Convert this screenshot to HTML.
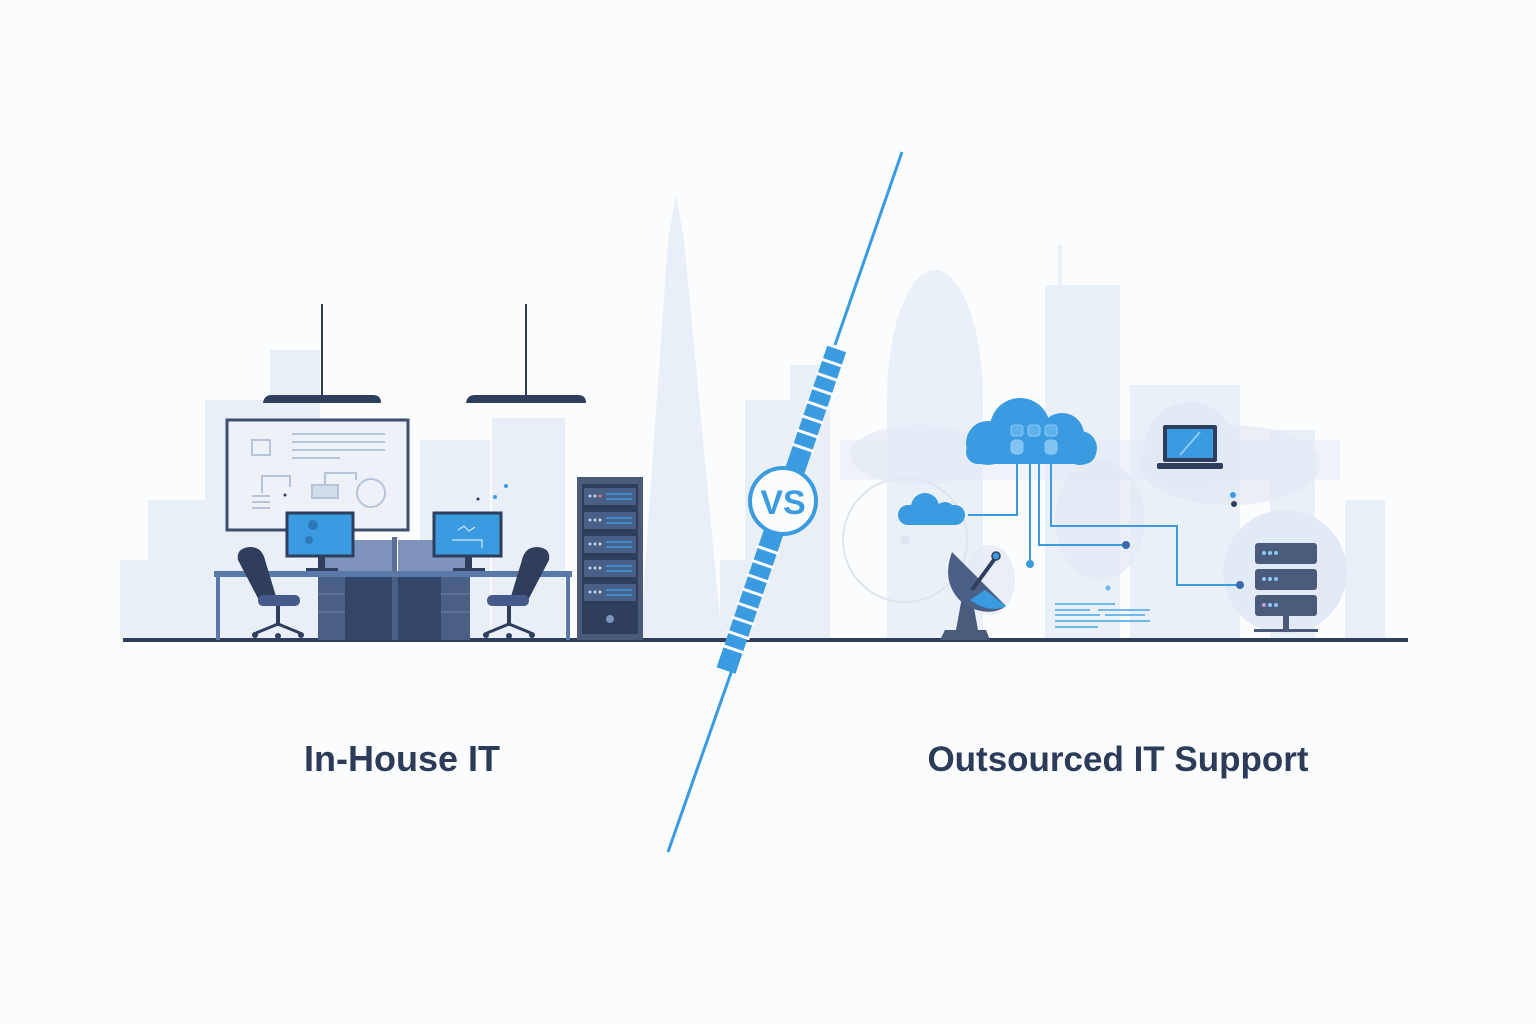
<!DOCTYPE html>
<html><head><meta charset="utf-8"><style>
html,body{margin:0;padding:0;background:#fbfcfe}
svg{display:block}
text{font-family:"Liberation Sans",sans-serif}
</style></head><body>
<svg width="1536" height="1024" viewBox="0 0 1536 1024" xmlns="http://www.w3.org/2000/svg">
<rect width="1536" height="1024" fill="#fbfcfe"/>
<g fill="#e9eff7">
<rect x="148" y="500" width="90" height="140"/>
<rect x="205" y="400" width="95" height="240"/>
<rect x="270" y="350" width="50" height="290"/>
<rect x="120" y="560" width="40" height="80"/>
<rect x="420" y="440" width="70" height="200"/>
<rect x="492" y="418" width="73" height="222"/>
<polygon points="640,640 668,240 676,195 684,240 722,640"/>
<rect x="720" y="560" width="30" height="80"/>
<rect x="745" y="400" width="55" height="240"/>
<rect x="790" y="365" width="40" height="275"/>
</g>
<g fill="#eaf0f8">
<ellipse cx="935" cy="400" rx="48" ry="130"/>
<rect x="887" y="400" width="96" height="240"/>
<rect x="1045" y="285" width="75" height="355"/>
<rect x="1058" y="245" width="4" height="45"/>
<rect x="1130" y="385" width="110" height="255"/>
<rect x="1270" y="430" width="45" height="210"/>
<rect x="1345" y="500" width="40" height="140"/>
<rect x="840" y="440" width="500" height="40" opacity="0.5" fill="#e3eaf4"/>
</g>
<circle cx="905" cy="540" r="62" fill="none" stroke="#dde5ef" stroke-width="2"/>
<circle cx="905" cy="540" r="5" fill="#dde5ef"/>
<g fill="#e3eaf4" opacity="0.7">
<ellipse cx="920" cy="455" rx="70" ry="30"/>
<ellipse cx="1100" cy="520" rx="45" ry="60"/>
<ellipse cx="1230" cy="465" rx="90" ry="40"/>
<ellipse cx="990" cy="580" rx="25" ry="35"/>
</g>
<line x1="123" y1="640" x2="1408" y2="640" stroke="#2e3e5c" stroke-width="4"/>
<g fill="#2e3e5c">
<rect x="321" y="304" width="2" height="92"/>
<path d="M263,403 Q264,395 272,395 L373,395 Q381,395 381,403 Z"/>
<rect x="525" y="304" width="2" height="92"/>
<path d="M466,403 Q467,395 475,395 L578,395 Q586,395 586,403 Z"/>
</g>
<rect x="227" y="420" width="181" height="110" fill="#eef2f8" stroke="#3e4f6e" stroke-width="3"/>
<g stroke="#b8c5d8" stroke-width="2" fill="none">
<line x1="292" y1="434" x2="385" y2="434"/><line x1="292" y1="442" x2="385" y2="442"/>
<line x1="292" y1="450" x2="385" y2="450"/><line x1="292" y1="458" x2="340" y2="458"/>
<path d="M252,440 h18 v15 h-18z"/>
<polyline points="262,493 262,476 290,476 290,487"/>
<rect x="312" y="485" width="26" height="13" fill="#d3dcea"/>
<polyline points="325,485 325,473 356,473 356,480"/>
<circle cx="371" cy="493" r="14"/>
<line x1="252" y1="496" x2="270" y2="496"/><line x1="252" y1="502" x2="270" y2="502"/><line x1="252" y1="508" x2="270" y2="508"/>
</g>
<rect x="318" y="540" width="74" height="31" fill="#7d93bc"/>
<rect x="398" y="540" width="72" height="31" fill="#7d93bc"/>
<rect x="392" y="537" width="5" height="103" fill="#5b6f95"/>
<rect x="287" y="513" width="66" height="43" fill="#3b9be0" stroke="#2e3e5c" stroke-width="3"/>
<rect x="318" y="556" width="7" height="14" fill="#2e3e5c"/><rect x="306" y="568" width="32" height="4" fill="#2e3e5c"/>
<rect x="434" y="513" width="67" height="43" fill="#3b9be0" stroke="#2e3e5c" stroke-width="3"/>
<rect x="465" y="556" width="7" height="14" fill="#2e3e5c"/><rect x="453" y="568" width="32" height="4" fill="#2e3e5c"/>
<g stroke="#cfe8fb" stroke-width="1.2" fill="none"><path d="M452,540 h30 v8 M458,530 l6,-4 l5,5 l6,-4"/></g>
<g fill="#2a6aa8" opacity="0.7"><circle cx="313" cy="525" r="5"/><circle cx="309" cy="540" r="4"/></g>
<rect x="214" y="571" width="358" height="6" fill="#5b79a8"/>
<rect x="216" y="577" width="4" height="63" fill="#5b79a8"/>
<rect x="566" y="577" width="4" height="63" fill="#5b79a8"/>
<rect x="318" y="577" width="152" height="63" fill="#4a5f85"/>
<rect x="345" y="577" width="47" height="63" fill="#34456a"/>
<rect x="398" y="577" width="43" height="63" fill="#34456a"/>
<g stroke="#6b80a8" stroke-width="1"><line x1="318" y1="594" x2="345" y2="594"/><line x1="318" y1="612" x2="345" y2="612"/><line x1="441" y1="594" x2="470" y2="594"/><line x1="441" y1="612" x2="470" y2="612"/></g>
<g fill="#2e3e5c">
<path d="M238,560 Q236,548 250,547 Q262,547 265,560 L278,603 L262,606 Z"/>
<rect x="258" y="595" width="42" height="11" rx="5" fill="#45598a"/>
<rect x="276" y="606" width="4" height="20"/>
<path d="M256,633 L278,624 L300,633" stroke="#2e3e5c" stroke-width="3" fill="none"/>
<circle cx="255" cy="635" r="3"/><circle cx="278" cy="636" r="3"/><circle cx="301" cy="635" r="3"/>
<path d="M549,560 Q551,548 537,547 Q525,547 522,560 L509,603 L525,606 Z"/>
<rect x="487" y="595" width="42" height="11" rx="5" fill="#45598a"/>
<rect x="507" y="606" width="4" height="20"/>
<path d="M487,633 L509,624 L531,633" stroke="#2e3e5c" stroke-width="3" fill="none"/>
<circle cx="486" cy="635" r="3"/><circle cx="509" cy="636" r="3"/><circle cx="532" cy="635" r="3"/>
</g>
<circle cx="506" cy="486" r="2" fill="#3b9be0"/><circle cx="495" cy="497" r="2" fill="#3b9be0"/><circle cx="478" cy="499" r="1.5" fill="#2e3e5c"/><circle cx="285" cy="495" r="1.5" fill="#2e3e5c"/>
<rect x="577" y="477" width="66" height="163" fill="#4a5a7a"/>
<rect x="582" y="484" width="56" height="150" fill="#2e3e5c"/>
<g fill="#4a5f85">
<rect x="584" y="488" width="52" height="17"/>
<rect x="584" y="512" width="52" height="17"/>
<rect x="584" y="536" width="52" height="17"/>
<rect x="584" y="560" width="52" height="17"/>
<rect x="584" y="584" width="52" height="17"/>
</g>
<g stroke="#3b9be0" stroke-width="1.5"><line x1="606" y1="494" x2="632" y2="494"/><line x1="606" y1="499" x2="632" y2="499"/><line x1="606" y1="518" x2="632" y2="518"/><line x1="606" y1="523" x2="632" y2="523"/><line x1="606" y1="542" x2="632" y2="542"/><line x1="606" y1="547" x2="632" y2="547"/><line x1="606" y1="566" x2="632" y2="566"/><line x1="606" y1="571" x2="632" y2="571"/><line x1="606" y1="590" x2="632" y2="590"/><line x1="606" y1="595" x2="632" y2="595"/></g>
<g fill="#c8d4e6"><circle cx="590" cy="496" r="1.5"/><circle cx="595" cy="496" r="1.5"/><circle cx="590" cy="520" r="1.5"/><circle cx="595" cy="520" r="1.5"/><circle cx="600" cy="520" r="1.5"/><circle cx="590" cy="544" r="1.5"/><circle cx="595" cy="544" r="1.5"/><circle cx="600" cy="544" r="1.5"/><circle cx="590" cy="568" r="1.5"/><circle cx="595" cy="568" r="1.5"/><circle cx="600" cy="568" r="1.5"/><circle cx="590" cy="592" r="1.5"/><circle cx="595" cy="592" r="1.5"/><circle cx="600" cy="592" r="1.5"/></g>
<circle cx="600" cy="496" r="1.5" fill="#e07a7a"/>
<circle cx="610" cy="619" r="4" fill="#7d93bc"/>

<circle cx="1190" cy="447" r="45" fill="#e2ebf5"/>
<circle cx="1285" cy="572" r="62" fill="#e2ebf5"/>
<g stroke="#3b9be0" stroke-width="2" fill="none">
<polyline points="1017,458 1017,515 968,515"/>
<polyline points="1030,458 1030,562"/>
<polyline points="1039,458 1039,545 1126,545"/>
<polyline points="1051,458 1051,526 1177,526 1177,585 1240,585"/>
</g>
<circle cx="1030" cy="564" r="4" fill="#3b9be0"/>
<circle cx="1126" cy="545" r="4" fill="#3a6aa8"/>
<circle cx="1240" cy="585" r="4" fill="#3a6aa8"/>
<circle cx="1108" cy="588" r="2.5" fill="#6fb7ec"/>
<g fill="#3b9be0">
<circle cx="1020" cy="428" r="30"/>
<circle cx="1062" cy="435" r="22"/>
<circle cx="988" cy="443" r="22"/>
<circle cx="1080" cy="448" r="17"/>
<rect x="966" y="440" width="130" height="24" rx="12"/>
</g>
<g fill="#5fb2ec" stroke="#8cc8f2" stroke-width="1"><rect x="1011" y="425" width="12" height="11" rx="3"/><rect x="1028" y="425" width="12" height="11" rx="3"/><rect x="1045" y="425" width="12" height="11" rx="3"/><rect x="1011" y="440" width="12" height="14" rx="4" fill="#7fc4f3"/><rect x="1045" y="440" width="12" height="14" rx="4" fill="#7fc4f3"/></g>
<g fill="#3b9be0"><circle cx="925" cy="507" r="14"/><circle cx="945" cy="512" r="10"/><rect x="898" y="505" width="67" height="20" rx="10"/></g>
<rect x="1163" y="425" width="54" height="37" rx="2" fill="#2e3e5c"/>
<rect x="1167" y="429" width="46" height="29" fill="#3b9be0"/>
<line x1="1180" y1="455" x2="1200" y2="432" stroke="#8cc8f2" stroke-width="2"/>
<rect x="1157" y="463" width="66" height="6" rx="2" fill="#2e3e5c"/>
<circle cx="1233" cy="495" r="3" fill="#3b9be0"/><circle cx="1234" cy="504" r="3" fill="#2e3e5c"/>
<g fill="#4a5a7a">
<rect x="1255" y="543" width="62" height="21" rx="3"/>
<rect x="1255" y="569" width="62" height="21" rx="3"/>
<rect x="1255" y="595" width="62" height="21" rx="3"/>
<rect x="1283" y="616" width="6" height="14"/>
<rect x="1254" y="629" width="64" height="3"/>
</g>
<g fill="#8cc8f2"><circle cx="1264" cy="553" r="2"/><circle cx="1270" cy="553" r="2"/><circle cx="1276" cy="553" r="2"/><circle cx="1264" cy="579" r="2"/><circle cx="1270" cy="579" r="2"/><circle cx="1276" cy="579" r="2"/><circle cx="1264" cy="605" r="2" fill="#c79ad8"/><circle cx="1270" cy="605" r="2"/><circle cx="1276" cy="605" r="2"/></g>
<g stroke="#6fb7ec" stroke-width="2"><line x1="1055" y1="604" x2="1115" y2="604"/><line x1="1055" y1="610" x2="1090" y2="610"/><line x1="1098" y1="610" x2="1150" y2="610"/><line x1="1055" y1="615" x2="1100" y2="615"/><line x1="1105" y1="615" x2="1145" y2="615"/><line x1="1055" y1="621" x2="1150" y2="621"/><line x1="1055" y1="627" x2="1098" y2="627"/></g>
<path d="M940,640 L945,630 L956,630 L962,597 L972,597 L978,630 L986,630 L990,640 Z" fill="#4a5a7a"/>
<path d="M952,552 Q940,585 965,605 Q990,618 1006,606 Z" fill="#4a5f85"/>
<path d="M970,600 Q990,614 1006,606 L985,590 Z" fill="#3b9be0"/>
<line x1="972" y1="590" x2="996" y2="557" stroke="#2e3e5c" stroke-width="4"/>
<circle cx="996" cy="556" r="4" fill="#3b9be0" stroke="#2e3e5c" stroke-width="1.5"/>

<line x1="902" y1="152" x2="835" y2="345" stroke="#3b9be0" stroke-width="3"/>
<line x1="732" y1="670" x2="668" y2="852" stroke="#3b9be0" stroke-width="3"/>
<g transform="translate(783,505) rotate(19)">
<rect x="-10" y="-165" width="20" height="340" fill="#3b9be0"/>
<g fill="#fbfcfe">
<rect x="-12" y="-152" width="24" height="3"/><rect x="-12" y="-137" width="24" height="3"/><rect x="-12" y="-122" width="24" height="3"/><rect x="-12" y="-107" width="24" height="3"/><rect x="-12" y="-92" width="24" height="3"/><rect x="-12" y="-77" width="24" height="3"/><rect x="-12" y="-62" width="24" height="3"/>
<rect x="-12" y="46" width="24" height="3"/><rect x="-12" y="61" width="24" height="3"/><rect x="-12" y="76" width="24" height="3"/><rect x="-12" y="91" width="24" height="3"/><rect x="-12" y="106" width="24" height="3"/><rect x="-12" y="121" width="24" height="3"/><rect x="-12" y="136" width="24" height="3"/><rect x="-12" y="151" width="24" height="3"/>
</g>
</g>
<circle cx="783" cy="501" r="33" fill="#fbfcfe" stroke="#3b9be0" stroke-width="4"/>
<text x="783" y="514" text-anchor="middle" font-size="34" font-weight="bold" fill="#3b9be0">VS</text>

<text x="402" y="771" text-anchor="middle" font-size="36" font-weight="bold" fill="#2b3b58">In-House IT</text>
<text x="1118" y="771" text-anchor="middle" font-size="35" font-weight="bold" fill="#2b3b58">Outsourced IT Support</text>
</svg>
</body></html>
